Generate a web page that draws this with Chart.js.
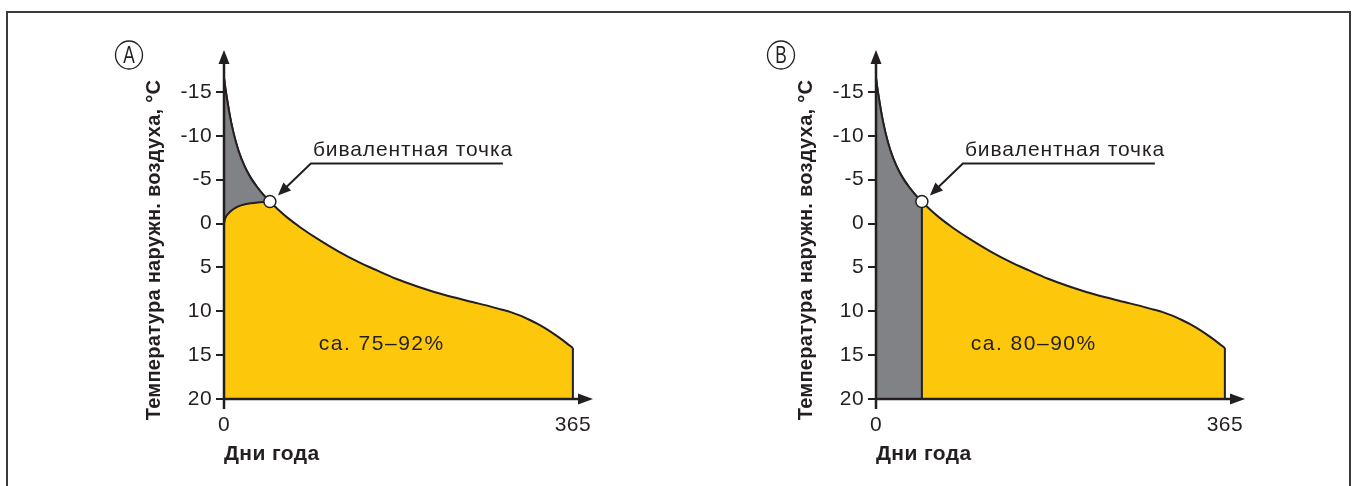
<!DOCTYPE html>
<html><head><meta charset="utf-8">
<script src="https://cdn.jsdelivr.net/npm/chart.js@4.4.0/dist/chart.umd.min.js"></script>
<style>
html,body{margin:0;padding:0;background:#fff;}
body{width:1356px;height:486px;position:relative;overflow:hidden;}
#frame{position:absolute;left:6px;top:11px;width:1345px;height:500px;border:2px solid #3a3a3a;border-bottom:none;box-sizing:border-box;}
canvas{position:absolute;top:0;}
#cA{left:0px}
#cB{left:652px}
</style></head><body>
<div id="frame"></div>
<canvas id="cA" width="652" height="486"></canvas>
<canvas id="cB" width="652" height="486"></canvas>
<script>
// ---- data ----
const DAYS         = [0, 1, 3, 6, 10, 15, 21, 28, 35, 41, 48, 56, 66, 80, 100, 120, 140, 160, 180, 200, 220, 240, 260, 280, 290, 300, 310, 320, 330, 340, 350, 358, 365];
const OUTDOOR_TEMP = [-16.6, -15.75, -14.3, -12.35, -10.3, -8.35, -6.65, -5.2, -4.1, -3.3, -2.5, -1.65, -0.7, 0.45, 1.9, 3.2, 4.35, 5.35, 6.3, 7.1, 7.8, 8.4, 8.95, 9.5, 9.8, 10.1, 10.5, 11.0, 11.55, 12.2, 12.95, 13.6, 14.2];
const HP_DAYS_A    = [0, 1, 3, 6, 10, 15, 21, 28, 35, 41, 48];
const HP_TEMP_A    = [0, -0.5, -0.95, -1.3, -1.65, -1.95, -2.17, -2.3, -2.4, -2.46, -2.5];
const BIV_DAY  = 48;
const BIV_TEMP = -2.5;
const Y_TICKS = [-15, -10, -5, 0, 5, 10, 15, 20];
const X_TICKS = [0, 365];
const Y_MIN = -20, Y_MAX = 20, X_MIN = 0, X_MAX = 385;
const PANEL_LETTERS = ['A', 'B'];
const SHARE_LABELS = ['ca. 75\u201392%', 'ca. 80\u201390%'];
const SHARE_POS = {day: 165, temp: 13.8};
const Y_TITLE = 'Температура наружн. воздуха, °C';
const X_TITLE = 'Дни года';
const BIV_LABEL = 'бивалентная точка';

// ---- styles ----
const FONT = '"Liberation Sans", Arial, sans-serif';
const INK = '#231f20';
const YELLOW = '#fdc80c';
const GREY = '#808285';

function pts(xs, ys) { return xs.map((x, i) => ({x: x, y: ys[i]})); }
const nLeft = DAYS.filter(d => d <= BIV_DAY).length;
const upperAll = pts(DAYS, OUTDOOR_TEMP);
const upperLeft = pts(DAYS.slice(0, nLeft), OUTDOOR_TEMP.slice(0, nLeft));
const lastDay = DAYS[DAYS.length - 1], lastTemp = OUTDOOR_TEMP[OUTDOOR_TEMP.length - 1];

const lineBase = {borderColor: INK, borderWidth: 2, pointRadius: 0, cubicInterpolationMode: 'monotone'};

function arrowHead(ctx, tx, ty, dx, dy, len, half) {
  const l = Math.hypot(dx, dy); const ux = dx / l, uy = dy / l;
  const bx = tx - ux * len, by = ty - uy * len;
  ctx.beginPath();
  ctx.moveTo(tx, ty);
  ctx.lineTo(bx - uy * half, by + ux * half);
  ctx.lineTo(bx + uy * half, by - ux * half);
  ctx.closePath();
  ctx.fill();
}

function decorPlugin(panel) {
  return {
    id: 'decor' + panel,
    beforeDraw(chart) { chart.ctx.letterSpacing = '0.4px'; },
    afterDraw(chart) {
      const ctx = chart.ctx, ca = chart.chartArea;
      const xs = chart.scales.x, ys = chart.scales.y;
      ctx.save();
      ctx.strokeStyle = INK; ctx.fillStyle = INK;
      // axes
      ctx.lineWidth = 2.5;
      ctx.beginPath();
      ctx.moveTo(ca.left, ca.bottom + 10);
      ctx.lineTo(ca.left, ca.top + 10);
      ctx.moveTo(ca.left - 1, ca.bottom);
      ctx.lineTo(ca.right - 10, ca.bottom);
      ctx.stroke();
      arrowHead(ctx, ca.left, ca.top + 2, 0, -1, 14, 5.5);
      arrowHead(ctx, ca.right + 1, ca.bottom, 1, 0, 15, 5.5);
      // bivalent callout
      const px = xs.getPixelForValue(BIV_DAY), py = ys.getPixelForValue(BIV_TEMP);
      ctx.lineWidth = 2;
      ctx.beginPath();
      ctx.moveTo(px + 233, py - 38);
      ctx.lineTo(px + 41, py - 38);
      ctx.lineTo(px + 15, py - 13);
      ctx.stroke();
      arrowHead(ctx, px + 8, py - 6, -33, 32, 13, 5.5);
      ctx.font = '21px ' + FONT;
      ctx.letterSpacing = '0.9px';
      ctx.textAlign = 'left'; ctx.textBaseline = 'middle';
      ctx.fillText(BIV_LABEL, px + 43, py - 51);
      // share label
      ctx.font = '21px ' + FONT;
      ctx.letterSpacing = '1.5px';
      ctx.textAlign = 'center';
      ctx.fillText(SHARE_LABELS[panel], xs.getPixelForValue(SHARE_POS.day), ys.getPixelForValue(SHARE_POS.temp));
      // y title
      ctx.save();
      ctx.letterSpacing = '0.3px';
      ctx.translate(ca.left - 70, 250);
      ctx.rotate(-Math.PI / 2);
      ctx.font = 'bold 20px ' + FONT;
      ctx.textAlign = 'center'; ctx.textBaseline = 'middle';
      ctx.fillText(Y_TITLE, 0, 0);
      ctx.restore();
      // circled panel letter
      const cx = ca.left - 95, cy = 55;
      ctx.lineWidth = 1.3;
      ctx.beginPath();
      ctx.ellipse(cx, cy, 13.5, 14, 0, 0, Math.PI * 2);
      ctx.stroke();
      ctx.save();
      ctx.letterSpacing = '0px';
      ctx.translate(cx, cy + 1.5);
      ctx.scale(0.72, 1);
      ctx.font = '24px ' + FONT;
      ctx.textAlign = 'center'; ctx.textBaseline = 'middle';
      ctx.fillText(PANEL_LETTERS[panel], 0, 0);
      ctx.restore();
      ctx.restore();
    }
  };
}

function makeChart(canvasId, panel) {
  const datasets = [];
  // bivalent point marker (on top)
  datasets.push({data: [{x: BIV_DAY, y: BIV_TEMP}], showLine: false, pointRadius: 6, pointHoverRadius: 6,
    pointBackgroundColor: '#ffffff', pointBorderColor: INK, pointBorderWidth: 1.5});
  // right edge at day 365
  datasets.push(Object.assign({}, lineBase, {data: [{x: lastDay, y: lastTemp}, {x: lastDay, y: Y_MAX}], cubicInterpolationMode: 'default', tension: 0, fill: false}));
  if (panel === 0) {
    // heat pump limit curve (lower boundary of grey wedge)
    datasets.push(Object.assign({}, lineBase, {data: pts(HP_DAYS_A, HP_TEMP_A), fill: false}));
    datasets.push(Object.assign({}, lineBase, {data: upperLeft, fill: {target: 2}, backgroundColor: GREY}));
  } else {
    datasets.push(Object.assign({}, lineBase, {data: [{x: BIV_DAY, y: BIV_TEMP}, {x: BIV_DAY, y: Y_MAX}], cubicInterpolationMode: 'default', tension: 0, fill: false}));
    datasets.push(Object.assign({}, lineBase, {data: upperLeft, fill: {value: Y_MAX}, backgroundColor: GREY}));
  }
  datasets.push(Object.assign({}, lineBase, {data: upperAll, fill: {value: Y_MAX}, backgroundColor: YELLOW}));

  return new Chart(document.getElementById(canvasId), {
    type: 'line',
    data: {datasets: datasets},
    options: {
      responsive: false, animation: false, devicePixelRatio: 1,
      layout: {padding: {left: 164, right: 60, top: 48, bottom: 19}},
      plugins: {legend: {display: false}, tooltip: {enabled: false}},
      events: [],
      scales: {
        x: {
          type: 'linear', min: X_MIN, max: X_MAX,
          afterBuildTicks: s => { s.ticks = X_TICKS.map(v => ({value: v})); },
          afterFit: s => { s.height = 68; },
          ticks: {font: {family: FONT, size: 21}, color: INK, padding: 5, maxRotation: 0, autoSkip: false, callback: v => String(v)},
          grid: {drawOnChartArea: false, color: 'rgba(0,0,0,0)', tickLength: 9},
          border: {display: false},
          title: {display: true, text: X_TITLE, align: 'start', color: INK, padding: 0, font: {family: FONT, size: 21, weight: 'bold', lineHeight: 1.2}}
        },
        y: {
          type: 'linear', reverse: true, min: Y_MIN, max: Y_MAX,
          afterBuildTicks: s => { s.ticks = Y_TICKS.map(v => ({value: v})); },
          afterFit: s => { s.width = 60; },
          ticks: {font: {family: FONT, size: 21}, color: INK, padding: 4, autoSkip: false, callback: v => String(v)},
          grid: {drawOnChartArea: false, color: INK, lineWidth: 2, tickLength: 8},
          border: {display: false}
        }
      }
    },
    plugins: [decorPlugin(panel)]
  });
}
makeChart('cA', 0);
makeChart('cB', 1);
</script>
</body></html>
